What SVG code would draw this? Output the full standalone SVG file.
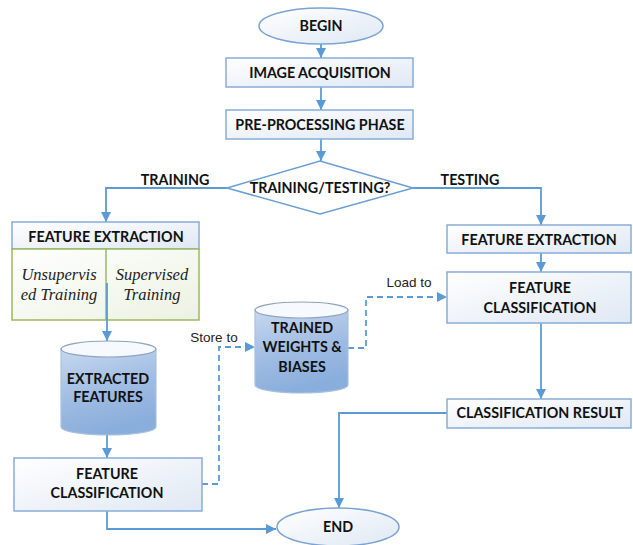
<svg xmlns="http://www.w3.org/2000/svg" width="633" height="545" viewBox="0 0 633 545">
  <defs>
    <linearGradient id="boxFill" x1="0" y1="0" x2="1" y2="1">
      <stop offset="0" stop-color="#ffffff"/>
      <stop offset="1" stop-color="#dfe8f4"/>
    </linearGradient>
    <linearGradient id="greenFill" x1="0" y1="0" x2="1" y2="1">
      <stop offset="0" stop-color="#ffffff"/>
      <stop offset="1" stop-color="#ecf2e2"/>
    </linearGradient>
    <linearGradient id="cylBody" x1="0" y1="0" x2="0.3" y2="1">
      <stop offset="0" stop-color="#c6d8ef"/>
      <stop offset="0.6" stop-color="#9ebbe2"/>
      <stop offset="1" stop-color="#8aaedb"/>
    </linearGradient>
    <marker id="arrow" viewBox="0 0 10 10" refX="10" refY="5" markerWidth="11" markerHeight="10" markerUnits="userSpaceOnUse" orient="auto">
      <path d="M0,0 L10,5 L0,10 z" fill="#5b9bd5"/>
    </marker>
    <style>
      .box { fill: url(#boxFill); stroke: #88acd8; stroke-width: 1.5; }
      .green { fill: url(#greenFill); stroke: #9bbb59; stroke-width: 1.5; }
      .term { fill: url(#boxFill); stroke: #7aa3d3; stroke-width: 1.5; }
      .cyl { fill: url(#cylBody); stroke: #a9c1e0; stroke-width: 1.2; }
      .cyltop { fill: #f6f9fd; stroke: #8ea3bd; stroke-width: 1.2; }
      .lbl { font-family: Lato, "Open Sans", "Liberation Sans", sans-serif; font-weight: bold; font-size: 14.3px; fill: #111; text-anchor: middle; }
      .ital { font-family: "Liberation Serif", "DejaVu Serif", serif; font-style: italic; font-size: 16.5px; fill: #222; text-anchor: middle; }
      .note { font-family: "Liberation Sans", Arial, sans-serif; font-size: 13.5px; fill: #222; text-anchor: middle; }
      .conn { fill: none; stroke: #5b9bd5; stroke-width: 1.8; }
      .dash { fill: none; stroke: #5b9bd5; stroke-width: 1.8; stroke-dasharray: 6 4; }
    </style>
  </defs>

  <!-- connectors -->
  <g id="connectors">
    <polyline class="conn" points="321,44 321,58" marker-end="url(#arrow)"/>
    <polyline class="conn" points="321,87 321,110" marker-end="url(#arrow)"/>
    <polyline class="conn" points="321,139 321,161" marker-end="url(#arrow)"/>
    <polyline class="conn" points="227,188 106,188 106,222" marker-end="url(#arrow)"/>
    <polyline class="conn" points="413,188 541,188 541,225" marker-end="url(#arrow)"/>
    <polyline class="conn" points="541,253 541,272" marker-end="url(#arrow)"/>
    <polyline class="conn" points="541,323 541,399" marker-end="url(#arrow)"/>
    <polyline class="conn" points="447,413 339,413 339,508" marker-end="url(#arrow)"/>
    <polyline class="conn" points="107,435 107,458" marker-end="url(#arrow)"/>
    <polyline class="conn" points="107,511 107,529 276,529" marker-end="url(#arrow)"/>
    <polyline class="dash" points="202,484 219,484 219,347 255,347" marker-end="url(#arrow)"/>
    <polyline class="dash" points="348,348 366,348 366,297 447,297" marker-end="url(#arrow)"/>
    <text class="note" x="214" y="342">Store to</text>
    <text class="note" x="409" y="287">Load to</text>
    <text class="lbl" x="175" y="185">TRAINING</text>
    <text class="lbl" x="470" y="185">TESTING</text>
  </g>

  <g id="begin">
    <ellipse class="term" cx="321" cy="26" rx="62" ry="18"/>
    <text class="lbl" x="321" y="31">BEGIN</text>
  </g>

  <g id="image-acquisition">
    <rect class="box" x="226" y="58" width="187" height="29"/>
    <text class="lbl" x="320" y="78">IMAGE ACQUISITION</text>
  </g>

  <g id="pre-processing">
    <rect class="box" x="226" y="110" width="187" height="29"/>
    <text class="lbl" x="320" y="130">PRE-PROCESSING PHASE</text>
  </g>

  <g id="decision">
    <polygon points="320,161 413,188 320,214 227,188" fill="#ffffff" stroke="#6b9fd3" stroke-width="1.5"/>
    <text class="lbl" x="320" y="193">TRAINING/TESTING?</text>
  </g>

  <g id="train-feature-extraction">
    <rect class="box" x="12" y="222" width="187" height="27"/>
    <text class="lbl" x="106" y="242">FEATURE EXTRACTION</text>
    <rect class="green" x="12" y="249" width="187" height="71"/>
    <line x1="106" y1="249" x2="106" y2="320" stroke="#9bbb59" stroke-width="1.5"/>
    <line x1="107" y1="283" x2="107" y2="341" class="conn" marker-end="url(#arrow)"/>
    <text class="ital" x="59" y="280">Unsupervis</text>
    <text class="ital" x="59" y="300">ed Training</text>
    <text class="ital" x="152" y="280">Supervised</text>
    <text class="ital" x="152" y="300">Training</text>
  </g>

  <g id="extracted-features">
    <path class="cyl" d="M61,349 L61,427 A47.5,8 0 0 0 156,427 L156,349 Z"/>
    <ellipse class="cyltop" cx="108.5" cy="349" rx="47.5" ry="8"/>
    <text class="lbl" x="108" y="384">EXTRACTED</text>
    <text class="lbl" x="108" y="402">FEATURES</text>
  </g>

  <g id="train-feature-classification">
    <rect class="box" x="14" y="458" width="188" height="53"/>
    <text class="lbl" x="107" y="479">FEATURE</text>
    <text class="lbl" x="107" y="498">CLASSIFICATION</text>
  </g>

  <g id="trained-weights">
    <path class="cyl" d="M255,310 L255,385 A46.5,8 0 0 0 348,385 L348,310 Z"/>
    <ellipse class="cyltop" cx="301.5" cy="310" rx="46.5" ry="8"/>
    <text class="lbl" x="302" y="333">TRAINED</text>
    <text class="lbl" x="302" y="352">WEIGHTS &amp;</text>
    <text class="lbl" x="302" y="372">BIASES</text>
  </g>

  <g id="test-feature-extraction">
    <rect class="box" x="447" y="225" width="184" height="28"/>
    <text class="lbl" x="539" y="245">FEATURE EXTRACTION</text>
  </g>

  <g id="test-feature-classification">
    <rect class="box" x="447" y="272" width="184" height="51"/>
    <text class="lbl" x="540" y="293">FEATURE</text>
    <text class="lbl" x="540" y="313">CLASSIFICATION</text>
  </g>

  <g id="classification-result">
    <rect class="box" x="447" y="399" width="184" height="29"/>
    <text class="lbl" x="540" y="418">CLASSIFICATION RESULT</text>
  </g>

  <g id="end">
    <ellipse class="term" cx="338" cy="527" rx="61" ry="19"/>
    <text class="lbl" x="338" y="532">END</text>
  </g>
</svg>
